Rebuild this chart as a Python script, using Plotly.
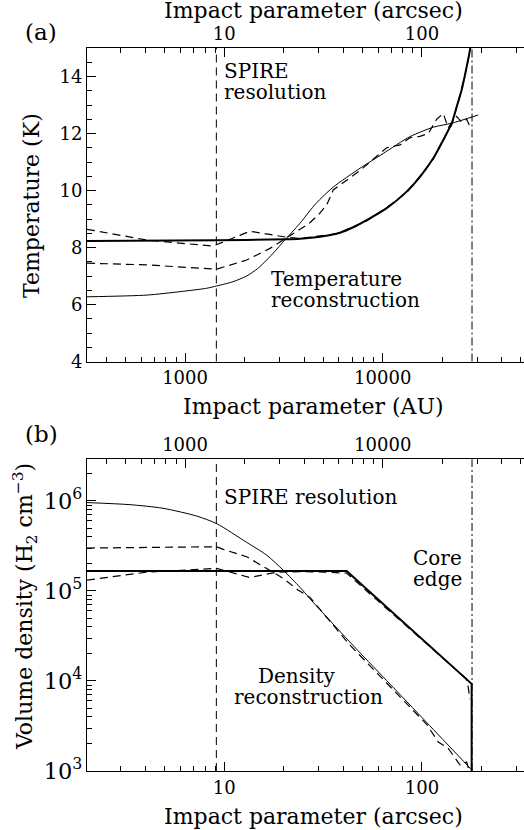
import numpy as np
import plotly.graph_objects as go

W, H = 524, 830
ML = 87
PW = W - ML

AU_PER_ARCSEC = 158.0
AU_RANGE_LOG = [2.504, 4.7147]
ARC_RANGE_LOG = [v - np.log10(AU_PER_ARCSEC) for v in AU_RANGE_LOG]

# ---------------- data (impact parameter in AU) ----------------
# Panel (a): temperature (K)
t_model_au = [319, 1445, 3267, 3814, 4815, 6076, 7096, 8296, 10469, 13217, 15432,
              18015, 20240, 22322, 23660, 25080, 26590, 27630, 28000]
t_model_k = [8.23, 8.25, 8.29, 8.31, 8.38, 8.52, 8.71, 8.96, 9.38, 9.96, 10.48,
             11.13, 11.77, 12.36, 12.94, 13.53, 14.34, 14.93, 15.2]

t_recon_au = [319, 640, 942, 1287, 1445, 1750, 2050, 2330, 2588, 2860, 3140, 3814,
              4600, 5621, 7672, 10063, 13735, 18015, 22322, 30430]
t_recon_k = [6.27, 6.33, 6.45, 6.57, 6.65, 6.80, 7.00, 7.26, 7.56, 7.88, 8.20, 8.85,
             9.55, 10.12, 10.78, 11.30, 11.89, 12.22, 12.36, 12.65]

t_fitA_au = [319, 640, 1384, 2131, 3267, 3814, 5848, 8296, 10469, 13217, 15432,
             18015, 20240, 22322, 23660, 25080, 26590, 27400]
t_fitA_k = [8.64, 8.26, 8.05, 8.57, 8.36, 8.32, 8.48, 8.93, 9.40, 9.93, 10.50,
            11.10, 11.80, 12.30, 12.90, 13.60, 14.30, 14.80]

t_fitB_au = [319, 640, 1445, 2050, 2689, 3528, 4201, 4721, 5205, 5621, 7672,
             10469, 12226, 13735, 15432, 17000, 18743, 20240, 21455, 23660,
             25080, 26590, 27400]
t_fitB_k = [7.45, 7.39, 7.24, 7.56, 7.97, 8.50, 8.82, 9.14, 9.49, 10.02, 10.70,
            11.50, 11.60, 11.85, 11.90, 12.00, 12.50, 12.70, 12.20, 12.60,
            12.40, 12.50, 12.30]

# Panel (b): volume density (H2 cm^-3)
n_model_au = [319, 6571, 28180, 28180]
n_model = [1.67e5, 1.67e5, 9.3e3, 1.0e2]

n_recon_au = [319, 527, 773, 1145, 1445, 2050, 2588, 3140, 3814, 4285, 6828,
              10469, 16688, 28180]
n_recon = [9.6e5, 9.1e5, 8.3e5, 6.8e5, 5.6e5, 3.47e5, 2.5e5, 1.7e5, 1.1e5,
           8.2e4, 2.7e4, 1.01e4, 3.46e3, 1.03e3]

n_fitA_au = [319, 640, 1445, 2131, 2908, 3814, 5103, 6571, 8296, 12226, 18015,
             24590, 26590, 27000, 27600]
n_fitA = [1.32e5, 1.62e5, 1.78e5, 1.41e5, 1.62e5, 1.64e5, 1.62e5, 1.58e5, 1.0e5,
          4.7e4, 2.2e4, 1.2e4, 1.05e4, 8.9e3, 6.3e3]

n_fitB_au = [319, 1445, 1561, 2050, 2588, 3140, 3739, 4285, 6828, 10469, 16688,
             19100, 21455, 24590, 26590, 27400]
n_fitB = [3.0e5, 3.1e5, 2.9e5, 2.4e5, 1.78e5, 1.38e5, 1.02e5, 8.5e4, 2.5e4,
          9.5e3, 3.3e3, 2.1e3, 1.78e3, 1.17e3, 1.26e3, 1.0e3]

spire_res_au = 1440
core_edge_au = 28300

# ---------------- figure ----------------
FONT = "DejaVu Serif"


def px(x):
    return (x - ML) / PW


def py(y):
    return 1 - y / H


fig = go.Figure()

thick = dict(color="black", width=2)
thick_s = dict(color="black", width=2, shape="spline", smoothing=0.8)
thin_s = dict(color="black", width=1, shape="spline", smoothing=0.7)
dashed = dict(color="black", width=1.2, dash="8px,5px")

for xs, ys, ln in [(t_model_au, t_model_k, thick_s), (t_recon_au, t_recon_k, thin_s),
                   (t_fitA_au, t_fitA_k, dashed), (t_fitB_au, t_fitB_k, dashed)]:
    fig.add_trace(go.Scatter(x=xs, y=ys, mode="lines", line=ln, xaxis="x", yaxis="y",
                             showlegend=False, hoverinfo="skip"))

for xs, ys, ln in [(n_model_au, n_model, thick), (n_recon_au, n_recon, thin_s),
                   (n_fitA_au, n_fitA, dashed), (n_fitB_au, n_fitB, dashed)]:
    fig.add_trace(go.Scatter(x=xs, y=ys, mode="lines", line=ln, xaxis="x3", yaxis="y2",
                             showlegend=False, hoverinfo="skip"))

# empty traces to register the overlaid arcsec / AU axes
fig.add_trace(go.Scatter(x=[], y=[], xaxis="x2", yaxis="y", showlegend=False))
fig.add_trace(go.Scatter(x=[], y=[], xaxis="x4", yaxis="y2", showlegend=False))

tickfont = dict(family=FONT, size=18, color="black")
minor_log = dict(ticks="inside", ticklen=5, tickwidth=1, tickcolor="black",
                 dtick="D1", showgrid=False)
base = dict(showline=True, linecolor="black", linewidth=1, ticks="inside", ticklen=9,
            tickwidth=1, tickcolor="black", showgrid=False, zeroline=False,
            tickfont=tickfont, automargin=False, mirror=False)
logx = dict(base, type="log", dtick=1, tickformat="d", minor=minor_log)

fig.update_layout(
    width=W, height=H,
    margin=dict(l=ML, r=0, t=0, b=0),
    paper_bgcolor="white", plot_bgcolor="white",
    font=dict(family=FONT, color="black"),
    xaxis=dict(logx, domain=[0, 1], anchor="y", side="bottom", range=AU_RANGE_LOG),
    xaxis2=dict(logx, overlaying="x", anchor="y", side="top", range=ARC_RANGE_LOG),
    yaxis=dict(base, domain=[py(361.5), py(48)], anchor="x", range=[4, 15], dtick=2,
               tick0=0, minor=dict(ticks="inside", ticklen=5, tickwidth=1,
                                   tickcolor="black", dtick=0.5, showgrid=False)),
    xaxis3=dict(logx, domain=[0, 1], anchor="y2", side="top", range=AU_RANGE_LOG),
    xaxis4=dict(logx, overlaying="x3", anchor="y2", side="bottom", range=ARC_RANGE_LOG),
    yaxis2=dict(base, type="log", domain=[py(771), py(459.3)], anchor="x3",
                range=[3, 6.463], dtick=1, exponentformat="power", minor=minor_log),
)

# vertical reference lines
for xr, yr in [("x", "y domain"), ("x3", "y2 domain")]:
    fig.add_shape(type="line", xref=xr, yref=yr, x0=spire_res_au, x1=spire_res_au,
                  y0=0, y1=1, line=dict(color="black", width=1, dash="8px,5px"))
    fig.add_shape(type="line", xref=xr, yref=yr, x0=core_edge_au, x1=core_edge_au,
                  y0=0, y1=1, line=dict(color="black", width=1, dash="8px,3px,2px,3px"))


def ann(text, x, y, size=20, xanchor="left", angle=0):
    fig.add_annotation(text=text, x=px(x), y=py(y), xref="paper", yref="paper",
                       xanchor=xanchor, yanchor="middle", showarrow=False,
                       textangle=angle, font=dict(family=FONT, size=size, color="black"))


ann("(a)", 23, 32, size=23)
ann("(b)", 23, 434, size=23)
ann("Impact parameter (arcsec)", 313, 10, size=22, xanchor="center")
ann("Impact parameter (AU)", 313, 407, size=22, xanchor="center")
ann("Impact parameter (arcsec)", 313, 816, size=22, xanchor="center")
ann("Temperature (K)", 31, 206, size=22, xanchor="center", angle=-90)
ann("Volume density (H<sub>2</sub> cm<sup>−3</sup>)", 25, 607, size=22,
    xanchor="center", angle=-90)

ann("SPIRE", 222, 71)
ann("resolution", 222, 92)
ann("Temperature", 269, 279)
ann("reconstruction", 269, 300)
ann("SPIRE resolution", 222, 497)
ann("Core", 411, 558)
ann("edge", 411, 579)
ann("Density", 296, 676, xanchor="center")
ann("reconstruction", 308, 697, xanchor="center")

fig.write_html("out.html")
